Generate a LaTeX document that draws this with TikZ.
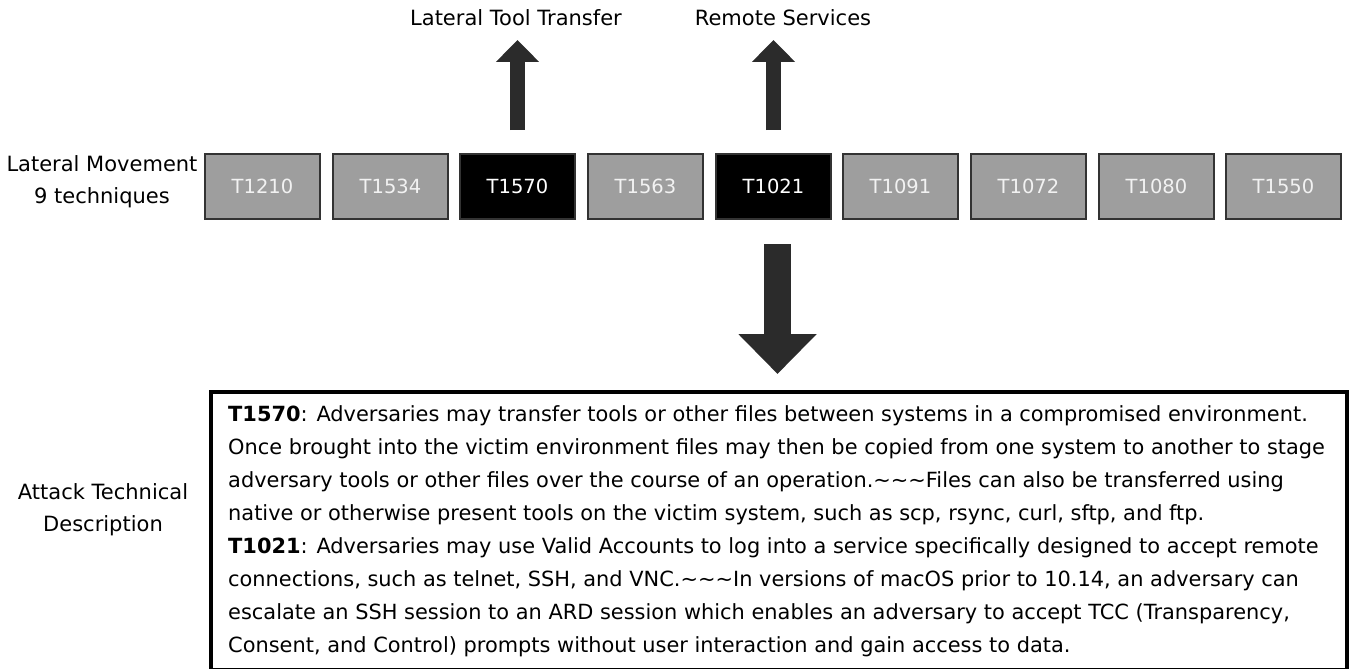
\documentclass[tikz,border=0pt]{standalone}
\usepackage{fontspec}
\setmainfont{DejaVu Sans}
\usetikzlibrary{arrows.meta}
\definecolor{boxgray}{HTML}{9E9E9E}
\definecolor{edgegray}{HTML}{333333}
\definecolor{arrowgray}{HTML}{2B2B2B}
\definecolor{labelwhite}{HTML}{F2F2F2}
\begin{document}
\begin{tikzpicture}[x=1pt,y=-1pt,
  tech/.style={draw=edgegray, line width=2pt, fill=boxgray, minimum width=115pt, minimum height=65pt,
     inner sep=0pt, text=labelwhite, font=\fontsize{19.5}{24}\selectfont},
  techsel/.style={tech, fill=black, text=white},
  lbl/.style={font=\fontsize{21}{32}\selectfont, inner sep=0pt, align=center},
  desc/.style={font=\fontsize{20.9}{33}\selectfont, inner sep=0pt, anchor=base west},
  uparrow/.style={draw=arrowgray, line width=15pt, -{Triangle[width=42pt,length=22pt]}},
  downarrow/.style={draw=arrowgray, line width=27pt, -{Triangle[width=76pt,length=40pt]}}
]
\useasboundingbox (0,0) rectangle (1349,669);

% technique boxes
\node[tech]    (b1) at (262.5,186) {T1210};
\node[tech]    (b2) at (390.5,186) {T1534};
\node[techsel] (b3) at (517.5,186) {T1570};
\node[tech]    (b4) at (645.5,186) {T1563};
\node[techsel] (b5) at (773.5,186) {T1021};
\node[tech]    (b6) at (900.5,186) {T1091};
\node[tech]    (b7) at (1028.5,186) {T1072};
\node[tech]    (b8) at (1156.5,186) {T1080};
\node[tech]    (b9) at (1283.5,186) {T1550};

% left labels
\node[lbl] (lm) at (102,182) {Lateral Movement\\9 techniques};
\node[lbl] (atd) at (103,510) {Attack Technical\\Description};

% top labels
\node[lbl, anchor=base] (ltt) at (516,26) {Lateral Tool Transfer};
\node[lbl, anchor=base] (rs) at (783,26) {Remote Services};

% description box
\node[draw=black, line width=4pt, minimum width=1136pt, minimum height=278pt, inner sep=0pt, anchor=north west] (db) at (209,390) {};

% up arrows
\draw[uparrow, shorten <=22.5pt] (b3.north) -- (b3.north |- 0,40);
\draw[uparrow, shorten <=22.5pt] (b5.north) -- (b5.north |- 0,40);

% down arrow
\draw[downarrow, shorten <=24.5pt, shorten >=16pt] ([xshift=4pt]b5.south) -- ([xshift=4pt]b5.south |- db.north);

% description text
\node[desc] (d1) at (228,421) {\textbf{T1570}: Adversaries may transfer tools or other files between systems in a compromised environment.};
\node[desc] (d2) at (228,454) {Once brought into the victim environment files may then be copied from one system to another to stage};
\node[desc] (d3) at (228,487) {adversary tools or other files over the course of an operation.\textasciitilde\textasciitilde\textasciitilde Files can also be transferred using};
\node[desc] (d4) at (228,520) {native or otherwise present tools on the victim system, such as scp, rsync, curl, sftp, and ftp.};
\node[desc] (d5) at (228,553) {\textbf{T1021}: Adversaries may use Valid Accounts to log into a service specifically designed to accept remote};
\node[desc] (d6) at (228,586) {connections, such as telnet, SSH, and VNC.\textasciitilde\textasciitilde\textasciitilde In versions of macOS prior to 10.14, an adversary can};
\node[desc] (d7) at (228,619) {escalate an SSH session to an ARD session which enables an adversary to accept TCC (Transparency,};
\node[desc] (d8) at (228,652) {Consent, and Control) prompts without user interaction and gain access to data.};
\end{tikzpicture}
\end{document}
